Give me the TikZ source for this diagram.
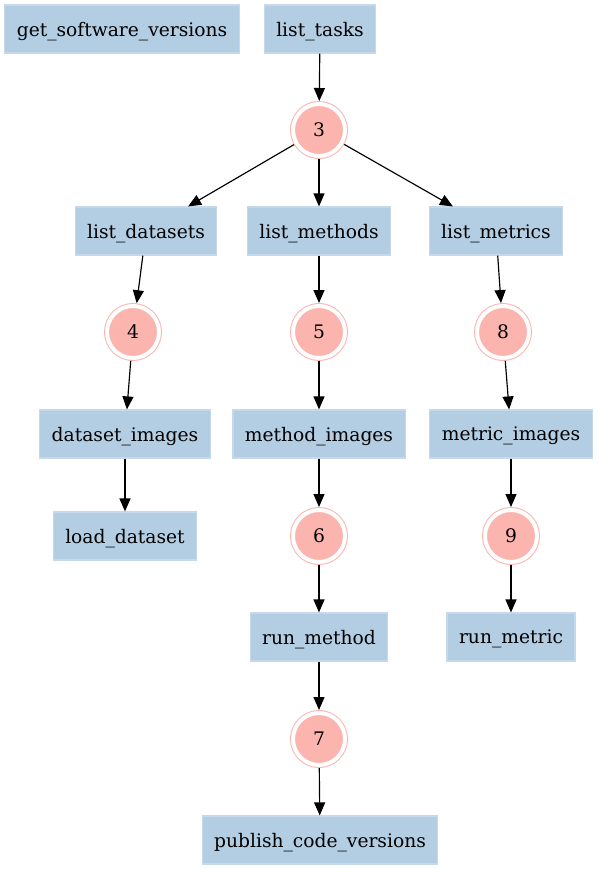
\documentclass[tikz,border=0pt]{standalone}
\usepackage{fontspec}
\setmainfont{DejaVu Serif}
\usetikzlibrary{shapes,calc,arrows.meta}
\definecolor{boxblue}{HTML}{B3CDE3}
\definecolor{stagered}{HTML}{FBB4AE}

\begin{document}
\begin{tikzpicture}[x=0.6pt,y=-0.6pt,line width=0.7pt,
    >={Triangle[length=7.8pt,width=6.6pt]},
    task/.style={rectangle,fill=boxblue,draw=boxblue!75!white,minimum height=28.8pt,
      inner xsep=7.2pt,text depth=0pt,font=\fontsize{11.2}{13}\selectfont},
    stage/.style={circle,fill=stagered,draw=stagered,double=white,double distance=2.4pt,
      line width=0.6pt,minimum size=31.2pt,inner sep=0pt,outer sep=1.8pt,
      font=\fontsize{11.2}{13}\selectfont}]
  \useasboundingbox (0,0) rectangle (597,869);
  \node[task] (N0) at (122,29) {get\_software\_versions};
  \node[task] (N1) at (320,29) {list\_tasks};
  \node[stage] (N2) at (319,130) {3};
  \node[task] (N3) at (146,231) {list\_datasets};
  \node[task] (N4) at (319,231) {list\_methods};
  \node[task] (N5) at (496,231) {list\_metrics};
  \node[stage] (N6) at (133,332) {4};
  \node[stage] (N7) at (319,332) {5};
  \node[stage] (N8) at (503,332) {8};
  \node[task] (N9) at (125,434) {dataset\_images};
  \node[task] (N10) at (319,434) {method\_images};
  \node[task] (N11) at (511,434) {metric\_images};
  \node[task] (N12) at (125,536) {load\_dataset};
  \node[stage] (N13) at (319,536) {6};
  \node[stage] (N14) at (511,536) {9};
  \node[task] (N15) at (319,637) {run\_method};
  \node[task] (N16) at (511,637) {run\_metric};
  \node[stage] (N17) at (319,739) {7};
  \node[task] (N18) at (320,840) {publish\_code\_versions};

  \path[->] (N1) edge (N2) (N2) edge (N3) (N2) edge (N4) (N2) edge (N5);
  \path[->] (N3) edge (N6) (N6) edge (N9) (N9) edge (N12);
  \path[->] (N4) edge (N7) (N7) edge (N10) (N10) edge (N13)
            (N13) edge (N15) (N15) edge (N17) (N17) edge (N18);
  \path[->] (N5) edge (N8) (N8) edge (N11) (N11) edge (N14) (N14) edge (N16);
\end{tikzpicture}
\end{document}
